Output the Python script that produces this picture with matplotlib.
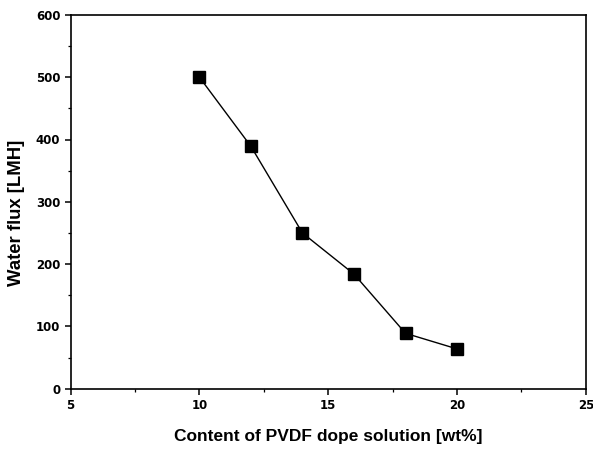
import matplotlib
matplotlib.use("Agg")
import matplotlib.pyplot as plt
from matplotlib.ticker import MultipleLocator

pvdf_content = [10, 12, 14, 16, 18, 20]
water_flux = [500, 389, 250, 184, 89, 64]

plt.rcParams['font.family'] = ['Liberation Sans', 'DejaVu Sans']

fig = plt.figure(figsize=(5.93, 4.5), dpi=100)
ax = fig.add_axes([0.119, 0.136, 0.869, 0.831])

ax.plot(pvdf_content, water_flux, color='black', linewidth=1.0,
        marker='s', markersize=8.5, markerfacecolor='black', markeredgecolor='black')

ax.set_xlim(5, 25)
ax.set_ylim(0, 600)
ax.xaxis.set_major_locator(MultipleLocator(5))
ax.xaxis.set_minor_locator(MultipleLocator(2.5))
ax.yaxis.set_major_locator(MultipleLocator(100))
ax.yaxis.set_minor_locator(MultipleLocator(50))

ax.tick_params(which='major', direction='out', length=4.3, width=1.1, labelsize=8.5, pad=3)
ax.tick_params(which='minor', direction='out', length=2.2, width=0.9)
for lbl in ax.get_xticklabels() + ax.get_yticklabels():
    lbl.set_fontweight('bold')
    lbl.set_family('DejaVu Sans')

for s in ax.spines.values():
    s.set_linewidth(1.2)

ax.set_xlabel('Content of PVDF dope solution [wt%]', fontsize=12.5, fontweight='bold', labelpad=12)
ax.set_ylabel('Water flux [LMH]', fontsize=13.3, fontweight='bold')
ax.yaxis.set_label_coords(-0.088, 0.47)

fig.savefig('out.png', dpi=100)
